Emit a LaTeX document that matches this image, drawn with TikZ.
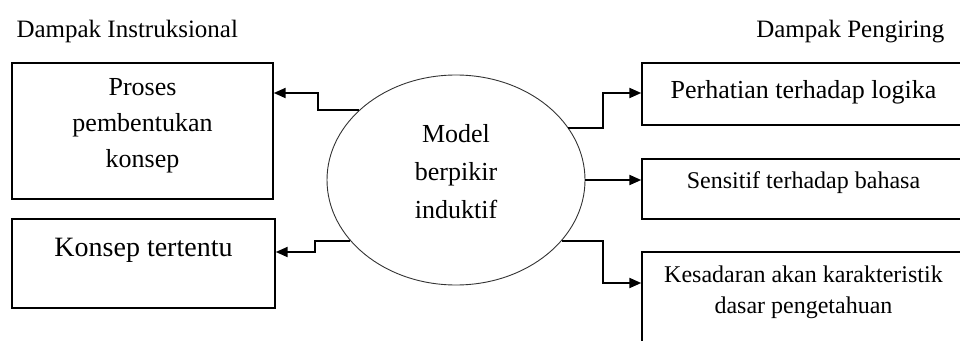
\documentclass[tikz,border=0pt]{standalone}
\usepackage{fontspec}
\setmainfont{Liberation Serif}
\usetikzlibrary{shapes.geometric,arrows.meta,positioning}

\begin{document}
\begin{tikzpicture}[
                        x=1pt, y=-1pt,
                        >={Triangle[length=12pt,width=10pt]},
                        box/.style={rectangle, draw, line width=1.4pt, inner sep=0pt},
                        boxtext/.style={align=center, font=\fontsize{24}{35}\selectfont},
                        head/.style={font=\fontsize{25}{30}\selectfont},
                        link/.style={->, line width=2pt}
                    ]
                    \useasboundingbox (0,0) rectangle (960,340);
                    \clip (0,0) rectangle (960,340);

                    % Headings
                    \node [head, anchor=base west] (instr) at (13,37) {Dampak Instruksional};
                    \node [head, anchor=base east] (pengiring) at (948,37) {Dampak Pengiring};

                    % Blocks
                    \node [ellipse, draw=black!80, line width=0.9pt, minimum width=258pt, minimum height=210pt, inner sep=0pt] (model) at (456,180) {};
                    \node [align=center, font=\fontsize{26}{38}\selectfont, yshift=8pt] (modelT) at (model) {Model\\berpikir\\induktif};

                    \node [box, minimum width=261pt, minimum height=136pt] (proses) at (142.5,131) {};
                    \node [boxtext, font=\fontsize{26}{36}\selectfont, yshift=5pt] (prosesT) at (proses) {Proses\\pembentukan\\konsep};
                    \node [box, minimum width=263pt, minimum height=89pt] (konsep) at (143.5,263.5) {};
                    \node [font=\fontsize{28}{30}\selectfont, yshift=13.5pt] (konsepT) at (konsep) {Konsep tertentu};

                    \node [box, minimum width=323pt, minimum height=62pt] (logika) at (803.5,94) {};
                    \node [boxtext, font=\fontsize{26}{30}\selectfont, yshift=2pt] (logikaT) at (logika) {Perhatian terhadap logika};
                    \node [box, minimum width=323pt, minimum height=60pt] (bahasa) at (803.5,189) {};
                    \node [boxtext, yshift=6.5pt] (bahasaT) at (bahasa) {Sensitif terhadap bahasa};
                    \node [box, minimum width=323pt, minimum height=96pt] (dasar) at (803.5,300) {};
                    \node [boxtext, font=\fontsize{24}{31}\selectfont, yshift=7.5pt] (dasarT) at (dasar) {Kesadaran akan karakteristik\\dasar pengetahuan};

                    % Connections
                    \draw [link] (model.144) -- ++(-41,0) |- ([yshift=38pt]proses.east);
                    \draw [link] (model.210) -- ++(-35,0) |- ([yshift=11.5pt]konsep.east);
                    \draw [link] (model.25) -- ++(35,0) |- ([yshift=1pt]logika.west);
                    \draw [link] (model.east) -- (model.east -| bahasa.west);
                    \draw [link] (model.330) -- ++(41,0) |- ([yshift=17pt]dasar.west);
                \end{tikzpicture}
\end{document}
